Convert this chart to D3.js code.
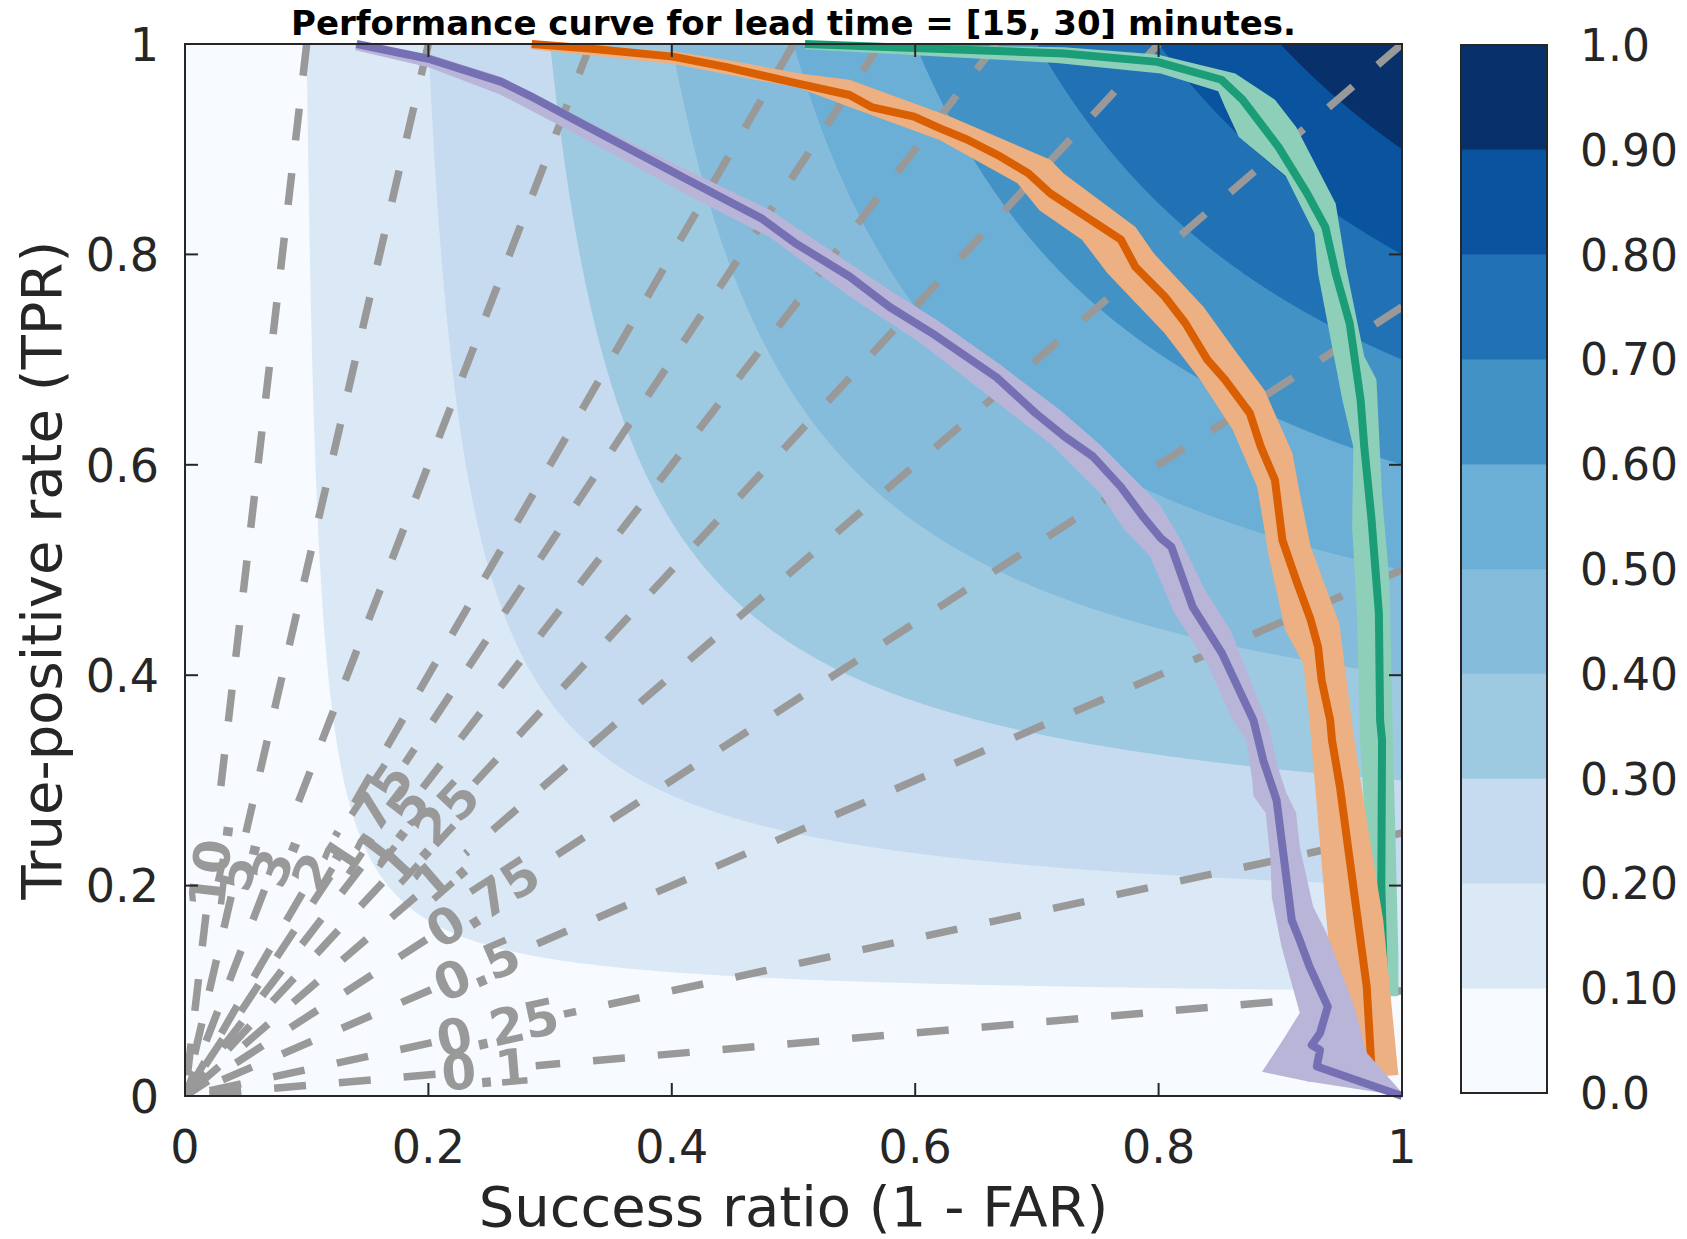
<!DOCTYPE html>
<html><head><meta charset="utf-8">
<script src="https://cdn.jsdelivr.net/npm/d3@7"></script>
<style>body{margin:0;background:#fff}svg{display:block}</style>
</head><body>
<svg id="chart" width="1687" height="1239"></svg>
<script>
// ---------- text ----------
const titleText = "Performance curve for lead time = [15, 30] minutes.";
const xLabelText = "Success ratio (1 - FAR)";
const yLabelText = "True-positive rate (TPR)";

// ---------- axes ----------
const axisTicks = [0, 0.2, 0.4, 0.6, 0.8, 1];
const axisTickLabels = ["0", "0.2", "0.4", "0.6", "0.8", "1"];

// ---------- CSI colour levels ----------
const csiLevels = [0, 0.1, 0.2, 0.3, 0.4, 0.5, 0.6, 0.7, 0.8, 0.9, 1.0];
const csiTickLabels = ["0.0", "0.10", "0.20", "0.30", "0.40", "0.50", "0.60", "0.70", "0.80", "0.90", "1.0"];
const csiColors = ["#f7fbff", "#dbe9f6", "#c6dbef", "#9ecae1", "#85bcdb", "#6baed6", "#4292c6", "#2171b5", "#0a539e", "#08306b"];

// ---------- frequency-bias lines ----------
const biasValues = [0.1, 0.25, 0.5, 0.75, 1, 1.25, 1.5, 1.75, 2, 3, 5, 10];
const biasLabels = ["0.1", "0.25", "0.5", "0.75", "1.", "1.25", "1.5", "1.75", "2.", "3.", "5.", "10."];
const biasLabelSR = [0.247, 0.257, 0.24, 0.245, 0.21, 0.2, 0.17, 0.15, 0.11, 0.075, 0.044, 0.022];

// ---------- performance curves: [success ratio, TPR] ----------
const purpleLine = [[0.141,1.0],[0.2,0.986],[0.26,0.964],[0.283,0.951],[0.325,0.925],[0.413,0.871],[0.474,0.834],[0.501,0.811],[0.546,0.779],[0.579,0.750],[0.614,0.725],[0.667,0.683],[0.699,0.649],[0.7225,0.627],[0.746,0.608],[0.769,0.579],[0.787,0.551],[0.802,0.530],[0.8105,0.522],[0.828,0.465],[0.852,0.421],[0.878,0.357],[0.886,0.319],[0.897,0.281],[0.900,0.253],[0.9094,0.167],[0.916,0.148],[0.924,0.123],[0.939,0.085],[0.9326,0.0596],[0.9258,0.0485],[0.9326,0.0437],[0.930,0.028],[1.0,0.0]];
const purpleBandHi = [[0.140,1.0],[0.201,0.99],[0.259,0.969],[0.3246,0.930],[0.415,0.879],[0.481,0.842],[0.579,0.766],[0.620,0.736],[0.670,0.695],[0.719,0.652],[0.752,0.619],[0.801,0.562],[0.818,0.529],[0.838,0.481],[0.859,0.443],[0.8915,0.348],[0.897,0.316],[0.905,0.288],[0.913,0.269],[0.916,0.237],[0.927,0.180],[0.938,0.155],[0.9545,0.104],[0.960,0.088],[0.971,0.041],[1.0,0.003]];
const purpleBandLo = [[0.14,0.994],[0.2,0.978],[0.259,0.952],[0.325,0.912],[0.415,0.855],[0.481,0.816],[0.546,0.760],[0.604,0.716],[0.643,0.681],[0.711,0.620],[0.752,0.573],[0.772,0.538],[0.793,0.513],[0.813,0.459],[0.840,0.411],[0.861,0.357],[0.872,0.338],[0.877,0.300],[0.878,0.285],[0.888,0.269],[0.892,0.224],[0.893,0.189],[0.901,0.142],[0.916,0.079],[0.902,0.053],[0.885,0.023],[0.922,0.014],[1.0,0.0]];

const orangeLine = [[0.285,1.0],[0.330,0.996],[0.401,0.988],[0.445,0.978],[0.501,0.963],[0.546,0.9515],[0.564,0.940],[0.599,0.931],[0.62,0.92],[0.643,0.909],[0.670,0.893],[0.693,0.877],[0.711,0.858],[0.740,0.836],[0.769,0.814],[0.781,0.788],[0.805,0.760],[0.822,0.7345],[0.840,0.700],[0.8545,0.681],[0.875,0.649],[0.884,0.617],[0.8956,0.5856],[0.9017,0.5285],[0.913,0.4905],[0.925,0.4525],[0.931,0.427],[0.934,0.395],[0.941,0.357],[0.9425,0.338],[0.949,0.294],[0.960,0.199],[0.971,0.104],[0.975,0.025]];
const orangeBandHi = [[0.284,1.0],[0.401,0.993],[0.445,0.985],[0.505,0.972],[0.546,0.966],[0.6286,0.931],[0.711,0.890],[0.722,0.877],[0.781,0.826],[0.796,0.801],[0.837,0.750],[0.865,0.705],[0.887,0.671],[0.910,0.611],[0.916,0.573],[0.925,0.522],[0.9485,0.449],[0.960,0.345],[0.971,0.262],[0.9846,0.167],[0.997,0.020]];
const orangeBandLo = [[0.284,0.995],[0.401,0.981],[0.505,0.958],[0.546,0.940],[0.62,0.9087],[0.684,0.8676],[0.702,0.842],[0.737,0.814],[0.758,0.782],[0.805,0.725],[0.834,0.681],[0.861,0.633],[0.881,0.579],[0.887,0.538],[0.890,0.516],[0.904,0.443],[0.919,0.411],[0.924,0.357],[0.938,0.167],[0.945,0.08],[0.922,0.0136]];

const greenLine = [[0.5095,1.0],[0.605,0.996],[0.7225,0.991],[0.799,0.983],[0.8516,0.966],[0.869,0.947],[0.8986,0.902],[0.922,0.858],[0.937,0.826],[0.9455,0.782],[0.957,0.7345],[0.966,0.6616],[0.969,0.617],[0.975,0.5475],[0.981,0.459],[0.982,0.357],[0.9836,0.338],[0.983,0.199],[0.985,0.115]];
const greenBandHi = [[0.5095,1.0],[0.7225,0.997],[0.799,0.99],[0.863,0.972],[0.8956,0.947],[0.913,0.921],[0.9455,0.8485],[0.954,0.788],[0.969,0.703],[0.979,0.681],[0.9836,0.570],[0.9896,0.4905],[0.9926,0.338],[0.997,0.1356],[0.997,0.095]];
const greenBandLo = [[0.5095,0.995],[0.7165,0.982],[0.8017,0.972],[0.849,0.955],[0.8545,0.940],[0.866,0.9115],[0.9045,0.8745],[0.928,0.820],[0.931,0.782],[0.951,0.6616],[0.960,0.617],[0.959,0.541],[0.963,0.459],[0.9655,0.338],[0.971,0.237],[0.9876,0.0945]];

const series = [
  {line: greenLine, hi: greenBandHi, lo: greenBandLo, color: "#1b9e77", band: "#8ecfba"},
  {line: orangeLine, hi: orangeBandHi, lo: orangeBandLo, color: "#d95f02", band: "#ecb083"},
  {line: purpleLine, hi: purpleBandHi, lo: purpleBandLo, color: "#7570b3", band: "#b8b5d9"}
];

// ---------- drawing ----------
const svg = d3.select("#chart");
const X0 = 185, X1 = 1402, Y0 = 44, Y1 = 1096;
const x = d3.scaleLinear().domain([0, 1]).range([X0, X1]);
const y = d3.scaleLinear().domain([0, 1]).range([Y1, Y0]);
const textColor = "#262626";
const font = "'DejaVu Sans', sans-serif";

svg.append("defs").append("clipPath").attr("id", "plotClip")
  .append("rect").attr("x", X0).attr("y", Y0).attr("width", X1 - X0).attr("height", Y1 - Y0);

const plot = svg.append("g").attr("clip-path", "url(#plotClip)");
plot.append("rect").attr("x", X0).attr("y", Y0).attr("width", X1 - X0).attr("height", Y1 - Y0)
  .attr("fill", csiColors[0]);

// CSI = 1 / (1/SR + 1/POD - 1): filled regions CSI >= level
const lineGen = d3.line().x(d => x(d[0])).y(d => y(d[1]));
for (let i = 1; i < csiLevels.length - 1; i++) {
  const c = csiLevels[i];
  const pts = [];
  d3.range(0, 1.00001, 0.002).forEach(t => {
    const sr = c + (1 - c) * t;
    const pod = 1 / (1 / c + 1 - 1 / sr);
    pts.push([sr, Math.min(1, pod)]);
    const pod2 = c + (1 - c) * t;
    const sr2 = 1 / (1 / c + 1 - 1 / pod2);
    pts.push([Math.min(1, sr2), pod2]);
  });
  pts.sort((a, b) => a[0] - b[0] || b[1] - a[1]);
  pts.push([1, 1]);
  plot.append("path").attr("d", lineGen(pts) + "Z").attr("fill", csiColors[i]).attr("stroke", "none");
}

// bias lines with inline labels
const labelFont = 50;
biasValues.forEach((b, i) => {
  const endSR = Math.min(1, 1 / b), endPOD = Math.min(1, b);
  const P1 = [x(endSR), y(endPOD)], P0 = [x(0), y(0)];
  const C = [x(biasLabelSR[i]), y(b * biasLabelSR[i])];
  const dx = P0[0] - P1[0], dy = P0[1] - P1[1];
  const L = Math.hypot(dx, dy);
  const u = [dx / L, dy / L];
  const t = plot.append("text").text(biasLabels[i])
    .attr("font-family", font).attr("font-weight", "bold").attr("font-size", labelFont)
    .attr("fill", "#999999").attr("text-anchor", "middle").attr("dominant-baseline", "central");
  const w = t.node().getComputedTextLength();
  const half = w / 2 + 6;
  const A = [C[0] - u[0] * half, C[1] - u[1] * half];
  const B = [C[0] + u[0] * half, C[1] + u[1] * half];
  plot.insert("path", "text")
    .attr("d", `M${P1[0]},${P1[1]}L${A[0]},${A[1]}M${B[0]},${B[1]}L${P0[0]},${P0[1]}`)
    .attr("stroke", "#999999").attr("stroke-width", 7.5).attr("fill", "none")
    .attr("stroke-dasharray", "32,33");
  let ang = Math.atan2(P1[1] - P0[1], P1[0] - P0[0]) * 180 / Math.PI;
  t.attr("transform", `translate(${C[0]},${C[1]}) rotate(${ang})`);
});

// curves with uncertainty bands
const curveG = svg.append("g");
series.forEach(s => {
  const poly = s.hi.concat(s.lo.slice().reverse());
  curveG.append("path").attr("d", lineGen(poly) + "Z").attr("fill", s.band).attr("stroke", "none");
  curveG.append("path").attr("d", lineGen(s.line)).attr("fill", "none")
    .attr("stroke", s.color).attr("stroke-width", 8).attr("stroke-linejoin", "round");
});

// frame and ticks
const axG = svg.append("g");
axG.append("rect").attr("x", X0).attr("y", Y0).attr("width", X1 - X0).attr("height", Y1 - Y0)
  .attr("fill", "none").attr("stroke", textColor).attr("stroke-width", 2);
const tickLen = 13;
axisTicks.forEach((v, i) => {
  axG.append("line").attr("x1", x(v)).attr("x2", x(v)).attr("y1", Y1).attr("y2", Y1 - tickLen).attr("stroke", textColor).attr("stroke-width", 2);
  axG.append("line").attr("x1", x(v)).attr("x2", x(v)).attr("y1", Y0).attr("y2", Y0 + tickLen).attr("stroke", textColor).attr("stroke-width", 2);
  axG.append("line").attr("y1", y(v)).attr("y2", y(v)).attr("x1", X0).attr("x2", X0 + tickLen).attr("stroke", textColor).attr("stroke-width", 2);
  axG.append("line").attr("y1", y(v)).attr("y2", y(v)).attr("x1", X1).attr("x2", X1 - tickLen).attr("stroke", textColor).attr("stroke-width", 2);
  axG.append("text").text(axisTickLabels[i]).attr("x", x(v)).attr("y", 1163)
    .attr("text-anchor", "middle").attr("font-family", font).attr("font-size", 46).attr("fill", textColor);
  axG.append("text").text(axisTickLabels[i]).attr("x", 159).attr("y", y(v) + 16.8)
    .attr("text-anchor", "end").attr("font-family", font).attr("font-size", 46).attr("fill", textColor);
});

svg.append("text").text(xLabelText).attr("x", (X0 + X1) / 2).attr("y", 1226)
  .attr("text-anchor", "middle").attr("font-family", font).attr("font-size", 56).attr("fill", textColor);
svg.append("text").text(yLabelText)
  .attr("transform", `translate(61,${(Y0 + Y1) / 2}) rotate(-90)`)
  .attr("text-anchor", "middle").attr("font-family", font).attr("font-size", 56).attr("fill", textColor);
svg.append("text").text(titleText).attr("x", (X0 + X1) / 2).attr("y", 35)
  .attr("text-anchor", "middle").attr("font-family", font).attr("font-weight", "bold")
  .attr("font-size", 34).attr("fill", "#000");

// colorbar
const CB0 = 1461, CB1 = 1547, CBT = 45, CBB = 1093;
const cy = d3.scaleLinear().domain([0, 1]).range([CBB, CBT]);
const cb = svg.append("g");
for (let i = 0; i < csiLevels.length - 1; i++) {
  cb.append("rect").attr("x", CB0).attr("width", CB1 - CB0)
    .attr("y", cy(csiLevels[i + 1])).attr("height", cy(csiLevels[i]) - cy(csiLevels[i + 1]))
    .attr("fill", csiColors[i]).attr("stroke", csiColors[i]).attr("stroke-width", 0.5);
}
cb.append("rect").attr("x", CB0).attr("y", CBT).attr("width", CB1 - CB0).attr("height", CBB - CBT)
  .attr("fill", "none").attr("stroke", textColor).attr("stroke-width", 2);
csiLevels.forEach((v, i) => {
  cb.append("text").text(csiTickLabels[i]).attr("x", 1580).attr("y", cy(v) + 16)
    .attr("font-family", font).attr("font-size", 44).attr("fill", textColor);
});
</script>
</body></html>
